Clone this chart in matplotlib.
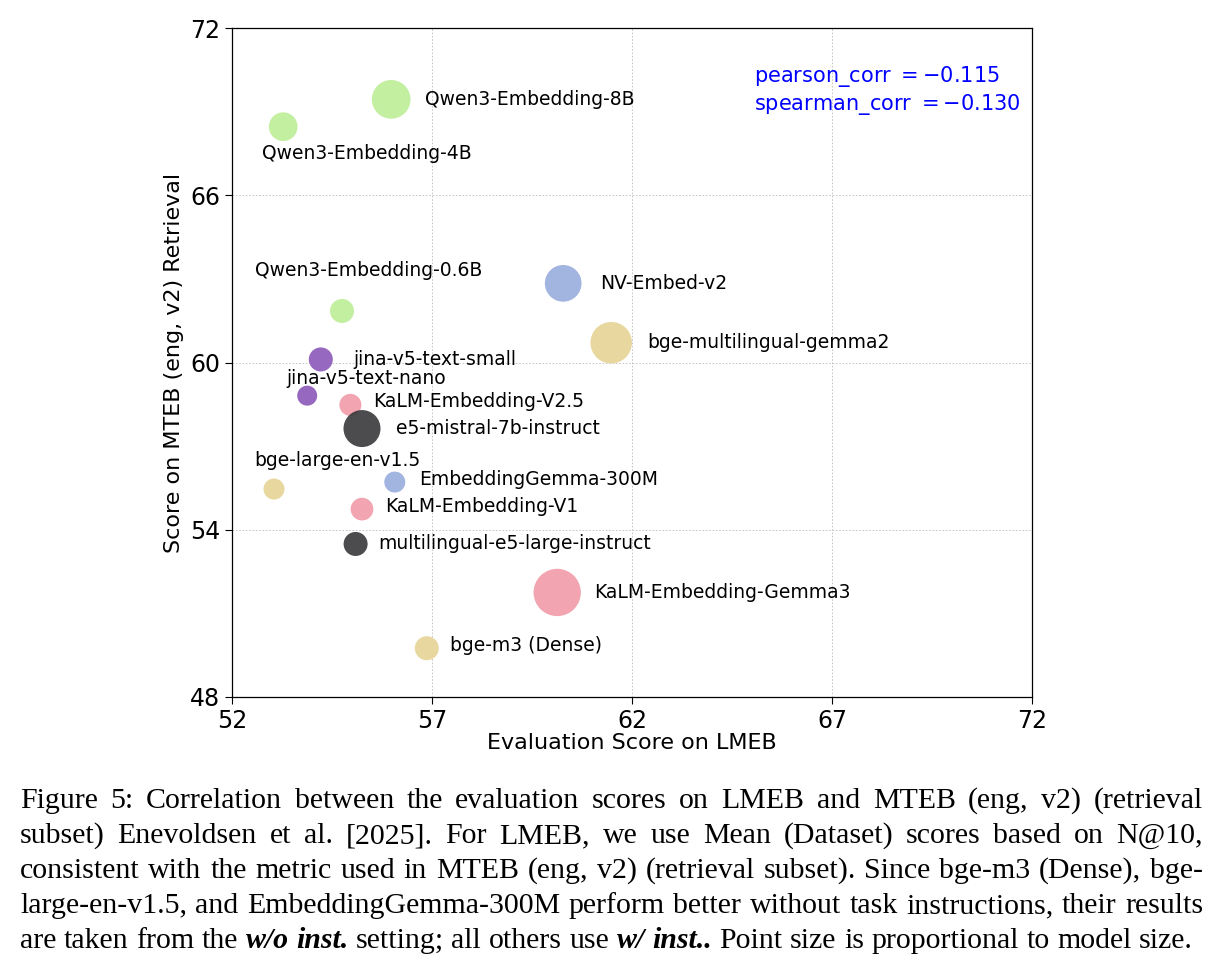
import matplotlib
matplotlib.use('Agg')
import matplotlib.pyplot as plt
from matplotlib import rc
rc('font', family='DejaVu Sans')

models = ['Qwen3-Embedding-8B', 'Qwen3-Embedding-4B', 'Qwen3-Embedding-0.6B',
          'NV-Embed-v2', 'bge-multilingual-gemma2', 'jina-v5-text-small',
          'jina-v5-text-nano', 'KaLM-Embedding-V2.5', 'e5-mistral-7b-instruct',
          'bge-large-en-v1.5', 'EmbeddingGemma-300M', 'KaLM-Embedding-V1',
          'multilingual-e5-large-instruct', 'KaLM-Embedding-Gemma3', 'bge-m3 (Dense)']
lmeb = [55.98, 53.28, 54.75, 60.28, 61.48, 54.22, 53.88, 54.96, 55.25,
        53.05, 56.07, 55.25, 55.09, 60.13, 56.87]
mteb = [69.44, 68.46, 61.85, 62.84, 60.71, 60.11, 58.81, 58.48, 57.63,
        55.46, 55.71, 54.74, 53.49, 51.75, 49.75]
# marker area (pt^2), proportional to model size
marker_area = [776, 427, 299, 698, 893, 299, 207, 251, 710, 229, 229, 267, 299, 1160, 299]
family = ['qwen', 'qwen', 'qwen', 'nv', 'bge', 'jina', 'jina', 'kalm', 'e5',
          'bge', 'nv', 'kalm', 'e5', 'kalm', 'bge']
pearson = -0.115
spearman = -0.130

colors = {'qwen': '#c3efa0', 'nv': '#a2b5e0', 'bge': '#e8d79f',
          'jina': '#9668bf', 'kalm': '#f2a4b0', 'e5': '#333336'}
alphas = {'qwen': 1.0, 'nv': 1.0, 'bge': 1.0, 'jina': 1.0, 'kalm': 1.0, 'e5': 0.88}

# label offsets in pixels (dx, dy downward) from point centre, left aligned
label_off = [(34, 0), (-21, 27), (-87, -40), (37, 0), (36, 0), (33, 0),
             (-21, -17), (23, -3), (34, 0), (-20, -29), (24, -3), (23, -3),
             (23, 0), (37, 0), (23, -3)]

W, H = 1223, 957
fig = plt.figure(figsize=(W / 100, H / 100), dpi=100)
ax = fig.add_axes([232 / W, 1 - 697 / H, 800 / W, 669 / H])

for i, m in enumerate(models):
    ax.scatter(lmeb[i], mteb[i], s=marker_area[i], color=colors[family[i]],
               alpha=alphas[family[i]], edgecolors='none', zorder=3)
    dx, dy = label_off[i]
    ax.annotate(m, (lmeb[i], mteb[i]), xytext=(dx * 0.72, -dy * 0.72),
                textcoords='offset points', ha='left', va='center',
                fontsize=13.5, zorder=4)

ax.set_xlim(52, 72)
ax.set_ylim(48, 72)
ax.set_xticks([52, 57, 62, 67, 72])
ax.set_yticks([48, 54, 60, 66, 72])
ax.tick_params(labelsize=17, length=5, width=0.8)
ax.grid(True, linestyle=(0, (2, 2)), linewidth=0.6, color='#bdbdbd', zorder=0)
ax.set_axisbelow(True)
ax.set_xlabel('Evaluation Score on LMEB', fontsize=16, labelpad=0)
ax.set_ylabel('Score on MTEB (eng, v2) Retrieval', fontsize=16, labelpad=4)
for sp in ax.spines.values():
    sp.set_linewidth(0.9)

ax.text(0.6525, 0.928, r'pearson_corr $= %.3f$' % pearson, transform=ax.transAxes,
        color='blue', fontsize=15, ha='left', va='center')
ax.text(0.6525, 0.886, r'spearman_corr $= %.3f$' % spearman, transform=ax.transAxes,
        color='blue', fontsize=15, ha='left', va='center')

# caption, justified like in the paper
caption = [
    'Figure 5: Correlation between the evaluation scores on LMEB and MTEB (eng, v2) (retrieval',
    'subset) Enevoldsen et al. [2025]. For LMEB, we use Mean (Dataset) scores based on N@10,',
    'consistent with the metric used in MTEB (eng, v2) (retrieval subset). Since bge-m3 (Dense), bge-',
    'large-en-v1.5, and EmbeddingGemma-300M perform better without task instructions, their results',
    'are taken from the *w/o *inst. setting; all others use *w/ *inst.. Point size is proportional to model size.',
]
cap_font = 'Liberation Serif'
renderer = fig.canvas.get_renderer()


def text_width(s, size, bold=False):
    t = fig.text(0, 0, s, fontsize=size, family=cap_font,
                 fontweight='bold' if bold else 'normal',
                 fontstyle='italic' if bold else 'normal')
    w = t.get_window_extent(renderer).width
    t.remove()
    return w


# pick font size so the last line spans ~1172 px
base = 18
plain_last = caption[-1].replace('*', '')
cap_size = base * 1172 / text_width(plain_last, base)
space_w = text_width('a a', cap_size) - text_width('aa', cap_size)

x0, x1 = 20, 1203
line_base = [808, 843, 878, 913, 948]
for li, line in enumerate(caption):
    toks = []
    for wd in line.split(' '):
        if wd.startswith('*'):
            toks.append((wd[1:], True))
        else:
            toks.append((wd, False))
    widths = [text_width(w, cap_size, b) for w, b in toks]
    if li < len(caption) - 1:
        gap = (x1 - x0 - sum(widths)) / (len(toks) - 1)
    else:
        gap = space_w
    x = x0
    for (w, b), wd in zip(toks, widths):
        fig.text(x / W, 1 - line_base[li] / H, w, fontsize=cap_size, family=cap_font,
                 fontweight='bold' if b else 'normal',
                 fontstyle='italic' if b else 'normal', va='baseline', ha='left')
        x += wd + gap

fig.savefig('out.png', dpi=100)
